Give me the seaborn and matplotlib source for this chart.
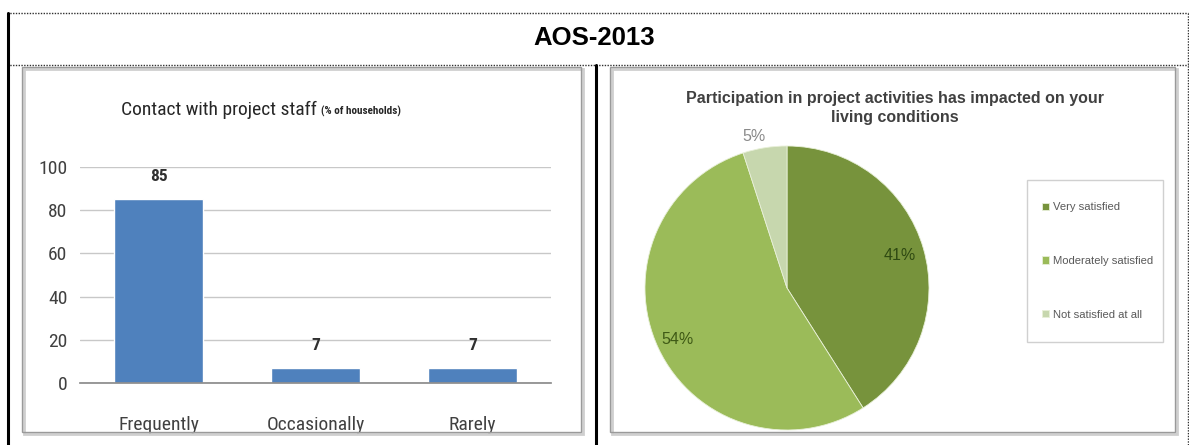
import matplotlib
matplotlib.use("Agg")
import matplotlib.pyplot as plt
from matplotlib import font_manager
from matplotlib.font_manager import FontProperties
from matplotlib.lines import Line2D
from matplotlib.patches import Rectangle
import numpy as np
import pandas as pd
import seaborn as sns

# ---- data ----
contact_categories = ["Frequently", "Occasionally", "Rarely"]
contact_values = [85, 7, 7]
contact_ticks = [0, 20, 40, 60, 80, 100]

satisfaction_labels = ["Very satisfied", "Moderately satisfied", "Not satisfied at all"]
satisfaction_values = [41, 54, 5]

header_title = "AOS-2013"
bar_title_main = "Contact with project staff"
bar_title_note = "(% of households)"
pie_title = "Participation in project activities has impacted on your\nliving conditions"

# ---- styling ----
sns.set_theme(style="white")
plt.rcParams["font.family"] = ["Liberation Sans", "DejaVu Sans"]


def find_narrow(bold=False):
    """Return a FontProperties for a narrow/condensed sans face if one is installed."""
    wanted = ["liberationsansnarrow-bold" if bold else "liberationsansnarrow-regular",
              "robotocondensed-bold" if bold else "robotocondensed-regular",
              "dejavusanscondensed-bold" if bold else "dejavusanscondensed.",
              "opensans_condensed-bold" if bold else "opensans_condensed-regular"]
    files = [f.fname for f in font_manager.fontManager.ttflist]
    for key in wanted:
        for path in files:
            if key in path.lower().replace(" ", ""):
                return FontProperties(fname=path)
    return FontProperties(family="Lato", weight="bold" if bold else "normal")


narrow_fp = find_narrow()
narrow_bold_fp = find_narrow(bold=True)


def nfp(size, bold=False):
    fp = (narrow_bold_fp if bold else narrow_fp).copy()
    fp.set_size(size)
    return fp


W, H = 1189, 445
fig = plt.figure(figsize=(W / 100, H / 100), dpi=100)


def fx(x):
    return x / W


def fy(y):
    return 1 - y / H


def box(x0, y0, x1, y1):
    return [fx(x0), fy(y1), fx(x1) - fx(x0), fy(y0) - fy(y1)]


# ---- table frame ----
dotted = dict(color="#303030", lw=1.0, linestyle=(0, (1, 1)), transform=fig.transFigure)
fig.add_artist(Line2D([fx(7), fx(1188)], [fy(13), fy(13)], **dotted))
fig.add_artist(Line2D([fx(7), fx(1188)], [fy(65), fy(65)], **dotted))
fig.add_artist(Line2D([fx(1188), fx(1188)], [fy(13), fy(445)], **dotted))
fig.add_artist(Line2D([fx(7.5), fx(7.5)], [fy(13), fy(445)], color="black", lw=2.2,
                      transform=fig.transFigure))
fig.add_artist(Line2D([fx(595.5), fx(595.5)], [fy(65), fy(445)], color="black", lw=2.2,
                      transform=fig.transFigure))
fig.text(fx(594), fy(38), header_title, ha="center", va="center",
         fontsize=18.5, fontweight="bold", color="black")


# chart frames with a soft grey edge
def chart_frame(x0, y0, x1, y1):
    fig.add_artist(Rectangle((fx(x0 + 1.5), fy(y1 + 1.5)), fx(x1) - fx(x0), fy(y0) - fy(y1),
                             transform=fig.transFigure, fill=False,
                             edgecolor="#cfcfcf", lw=2.0))
    fig.add_artist(Rectangle((fx(x0), fy(y1)), fx(x1) - fx(x0), fy(y0) - fy(y1),
                             transform=fig.transFigure, fill=False,
                             edgecolor="#9a9a9a", lw=1.0))


chart_frame(22, 67, 581, 432)
chart_frame(610, 67, 1175, 432)

# ---- bar chart ----
ax = fig.add_axes(box(80, 167, 551, 383))
df = pd.DataFrame({"category": contact_categories, "value": contact_values})
sns.barplot(data=df, x="category", y="value", color="#4F81BD", saturation=1,
            width=0.57, ax=ax)
ax.set_ylim(0, 100)
ax.set_yticks(contact_ticks)
ax.yaxis.grid(True, color="#c8c8c8", lw=1.0)
ax.set_axisbelow(True)
ax.set_xlabel("")
ax.set_ylabel("")
for s in ["top", "right", "left"]:
    ax.spines[s].set_visible(False)
ax.spines["bottom"].set_color("#8c8c8c")
ax.tick_params(axis="both", length=0, labelcolor="#404040")
ax.tick_params(axis="y", pad=9)
ax.tick_params(axis="x", pad=24)
for lab in ax.get_yticklabels() + ax.get_xticklabels():
    lab.set_fontproperties(nfp(14))
ax.bar_label(ax.containers[0], labels=[str(v) for v in contact_values], padding=11,
             fontproperties=nfp(12.5, bold=True), color="#303030")

t1 = fig.text(fx(121), fy(110), bar_title_main, ha="left", va="center",
              fontproperties=nfp(14), color="#262626")
fig.canvas.draw()
bb = t1.get_window_extent()
fig.text(bb.x1 / W + fx(4), fy(111), bar_title_note, ha="left", va="center",
         fontproperties=nfp(8, bold=True), color="#262626")

# ---- pie chart ----
cx, cy, r = 787, 288, 142
pax = fig.add_axes(box(cx - r, cy - r, cx + r, cy + r))
pie_colors = ["#77933C", "#9BBB59", "#C7D7AE"]
wedges, _ = pax.pie(satisfaction_values, colors=pie_colors, startangle=90,
                    counterclock=False, wedgeprops=dict(edgecolor="#e8f0d8", lw=0.6))
pax.set_xlim(-1, 1)
pax.set_ylim(-1, 1)
pax.set_aspect("equal")
pax.axis("off")

label_dist = [0.83, 0.85, 1.08]
label_colors = ["#2f4a12", "#3f5a16", "#8a8a8a"]
for w, v, d, c in zip(wedges, satisfaction_values, label_dist, label_colors):
    ang = np.deg2rad((w.theta1 + w.theta2) / 2)
    pax.text(d * np.cos(ang) - (0.06 if v == 5 else 0), d * np.sin(ang), f"{v}%",
             ha="center", va="center", fontsize=11.5, color=c, clip_on=False)

fig.text(fx(895), fy(108), pie_title, ha="center", va="center", fontsize=11.5,
         fontweight="bold", color="#404040", linespacing=1.3)

# legend in its own light frame
fig.add_artist(Rectangle((fx(1027), fy(342)), fx(1163) - fx(1027), fy(180) - fy(342),
                         transform=fig.transFigure, fill=False, edgecolor="#d0d0d0", lw=1.0))
fig.legend(wedges, satisfaction_labels, loc="center left",
           bbox_to_anchor=(fx(1032), fy(261)), frameon=False, fontsize=8.1,
           labelcolor="#595959", handlelength=0.6, handleheight=0.6, handletextpad=0.4,
           labelspacing=3.9)

fig.savefig("out.png", dpi=100, facecolor="white")
